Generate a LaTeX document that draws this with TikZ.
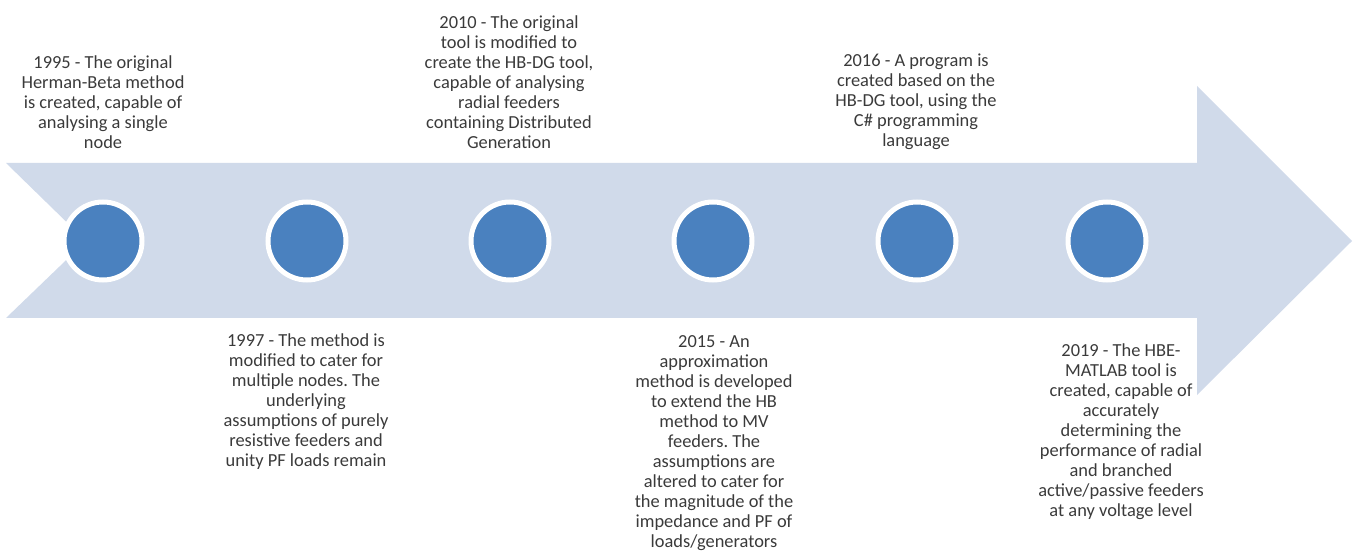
\documentclass[tikz,border=0pt]{standalone}
\usepackage{fontspec}
\setmainfont{Carlito}
\usepackage{tikz}

\definecolor{bandfill}{HTML}{D0DAEA}
\definecolor{dotfill}{HTML}{4A81BF}
\definecolor{textgrey}{HTML}{3A3A3A}

\tikzset{
	dot/.style={shape=circle,fill=dotfill,draw=white,line width=5pt,minimum size=78pt,inner sep=0pt},
	event/.style={align=center,inner sep=0pt,text=textgrey,font=\frenchspacing\fontsize{18.4}{20}\selectfont}
}

\begin{document}
\begin{tikzpicture}[x=1pt,y=-1pt]
	\useasboundingbox (0,0) rectangle (1358,553);

	\fill[bandfill] (6,163) -- (1197,163) -- (1197,86) -- (1352,241) -- (1197,395) -- (1197,318) -- (6,318) -- (86,241) -- cycle;

	\node[dot] (d1) at (103, 241)  {};
	\node[dot] (d2) at (307, 241)  {};
	\node[dot] (d3) at (510, 241)  {};
	\node[dot] (d4) at (713, 241)  {};
	\node[dot] (d5) at (917, 241)  {};
	\node[dot] (d6) at (1107, 241) {};

	\node[event] (e1) at (103, 102)  {1995 - The original\\Herman-Beta method\\is created, capable of\\analysing a single\\node};
	\node[event] (e2) at (306, 402)  {1997 - The method is\\modified to cater for\\multiple nodes. The\\underlying\\assumptions of purely\\resistive feeders and\\unity PF loads remain};
	\node[event] (e3) at (509, 82)   {2010 - The original\\tool is modified to\\create the HB-DG tool,\\capable of analysing\\radial feeders\\containing Distributed\\Generation};
	\node[event] (e4) at (714, 443)  {2015 - An\\approximation\\method is developed\\to extend the HB\\method to MV\\feeders. The\\assumptions are\\altered to cater for\\the magnitude of the\\impedance and PF of\\loads/generators};
	\node[event] (e5) at (916, 102)  {2016 - A program is\\created based on the\\HB-DG tool, using the\\C\# programming\\language};
	\node[event] (e6) at (1121, 432) {2019 - The HBE-\\MATLAB tool is\\created, capable of\\accurately\\determining the\\performance of radial\\and branched\\active/passive feeders\\at any voltage level};

\end{tikzpicture}
\end{document}
